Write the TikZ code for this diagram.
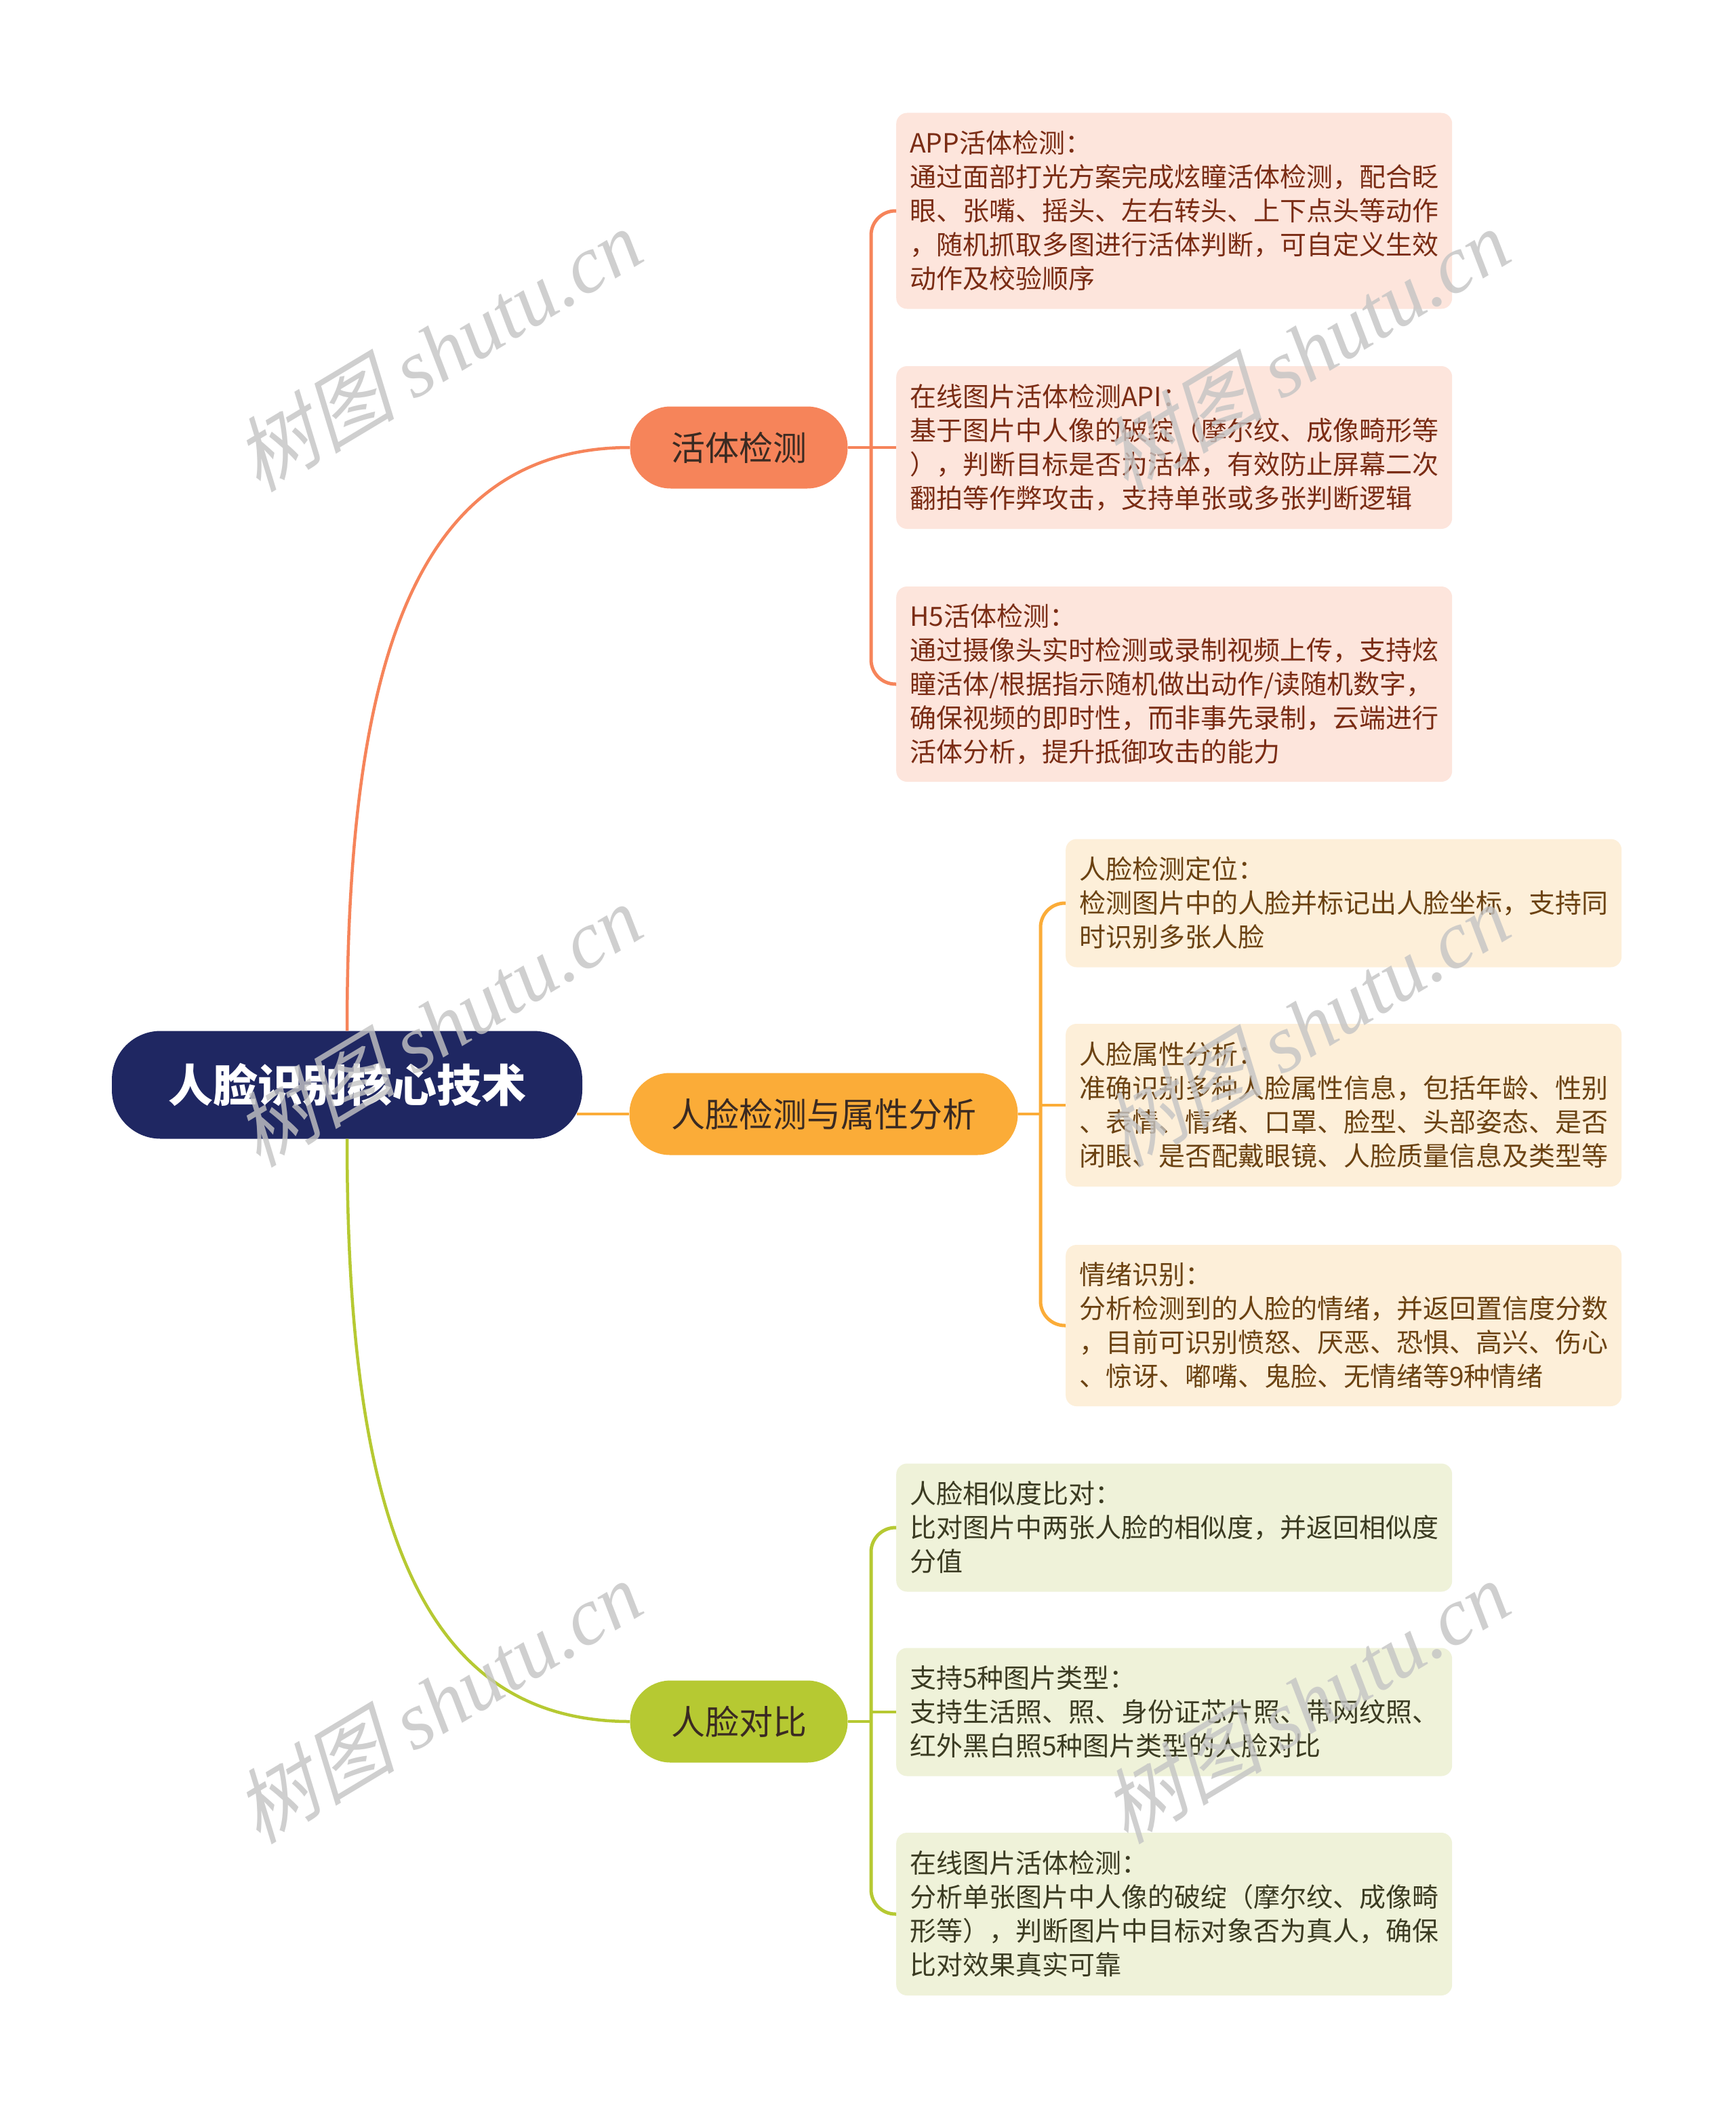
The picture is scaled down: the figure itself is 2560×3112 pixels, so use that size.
\documentclass[tikz,border=0pt]{standalone}
\usepackage{fontspec}
\setmainfont{Noto Sans CJK SC}
\newfontfamily\wmserif{Liberation Serif}
\newfontfamily\wmcjk[FakeSlant=0.25]{Noto Sans CJK SC}
\definecolor{rootc}{HTML}{1F2762}
\definecolor{bAc}{HTML}{F6845A}
\definecolor{bBc}{HTML}{FBAC38}
\definecolor{bCc}{HTML}{B6C932}
\definecolor{btext}{HTML}{3A2A22}
\definecolor{lAfill}{HTML}{FDE5DC}
\definecolor{lAtext}{HTML}{7A2C14}
\definecolor{lBfill}{HTML}{FDEFD9}
\definecolor{lBtext}{HTML}{6B4212}
\definecolor{lCfill}{HTML}{EFF2D9}
\definecolor{lCtext}{HTML}{3B3B22}
\definecolor{wmgray}{HTML}{C4C4C4}
\tikzset{
  rootbox/.style={fill=rootc, rounded corners=72pt, minimum width=694pt, minimum height=159pt,
    text=white, inner sep=0pt, font=\fontsize{66}{70}\selectfont\bfseries},
  branchbox/.style={rounded corners=60pt, minimum height=121pt, inner sep=0pt, text=btext,
    font=\fontsize{50}{56}\selectfont},
  leafbox/.style={rounded corners=16pt, text width=780pt, inner xsep=20pt, inner ysep=0pt,
    align=left, anchor=west, font=\fontsize{39}{50}\selectfont},
  conn/.style={line width=4.5pt},
  spine/.style={line width=5pt, rounded corners=36pt},
  wm/.style={text=wmgray, opacity=0.8, inner sep=0pt, rotate=31}
}
\begin{document}
\begin{tikzpicture}[x=1pt,y=-1pt]
\fill[white] (0,0) rectangle (2560,3112);
\useasboundingbox (0,0) rectangle (2560,3112);

% root and branches
\node[rootbox] (root) at (512,1600) {人脸识别核心技术};
\node[branchbox, fill=bAc, minimum width=321pt] (bA) at (1090,660) {活体检测};
\node[branchbox, fill=bBc, minimum width=573pt] (bB) at (1215,1643) {人脸检测与属性分析};
\node[branchbox, fill=bCc, minimum width=321pt] (bC) at (1090,2539) {人脸对比};

% leaves A
\node[leafbox, fill=lAfill, text=lAtext, minimum height=289pt] (lA1) at (1322,311) {APP活体检测：\\通过面部打光方案完成炫瞳活体检测，配合眨\\眼、张嘴、摇头、左右转头、上下点头等动作\\，随机抓取多图进行活体判断，可自定义生效\\动作及校验顺序};
\node[leafbox, fill=lAfill, text=lAtext, minimum height=240pt] (lA2) at (1322,660) {在线图片活体检测API：\\基于图片中人像的破绽（摩尔纹、成像畸形等\\），判断目标是否为活体，有效防止屏幕二次\\翻拍等作弊攻击，支持单张或多张判断逻辑};
\node[leafbox, fill=lAfill, text=lAtext, minimum height=288pt] (lA3) at (1322,1009) {H5活体检测：\\通过摄像头实时检测或录制视频上传，支持炫\\瞳活体/根据指示随机做出动作/读随机数字，\\确保视频的即时性，而非事先录制，云端进行\\活体分析，提升抵御攻击的能力};

% leaves B
\node[leafbox, fill=lBfill, text=lBtext, minimum height=189pt] (lB1) at (1572,1332) {人脸检测定位：\\检测图片中的人脸并标记出人脸坐标，支持同\\时识别多张人脸};
\node[leafbox, fill=lBfill, text=lBtext, minimum height=240pt] (lB2) at (1572,1630) {人脸属性分析：\\准确识别多种人脸属性信息，包括年龄、性别\\、表情、情绪、口罩、脸型、头部姿态、是否\\闭眼、是否配戴眼镜、人脸质量信息及类型等};
\node[leafbox, fill=lBfill, text=lBtext, minimum height=238pt] (lB3) at (1572,1955) {情绪识别：\\分析检测到的人脸的情绪，并返回置信度分数\\，目前可识别愤怒、厌恶、恐惧、高兴、伤心\\、惊讶、嘟嘴、鬼脸、无情绪等9种情绪};

% leaves C
\node[leafbox, fill=lCfill, text=lCtext, minimum height=189pt] (lC1) at (1322,2253) {人脸相似度比对：\\比对图片中两张人脸的相似度，并返回相似度\\分值};
\node[leafbox, fill=lCfill, text=lCtext, minimum height=189pt] (lC2) at (1322,2525) {支持5种图片类型：\\支持生活照、照、身份证芯片照、带网纹照、\\红外黑白照5种图片类型的人脸对比};
\node[leafbox, fill=lCfill, text=lCtext, minimum height=240pt] (lC3) at (1322,2823) {在线图片活体检测：\\分析单张图片中人像的破绽（摩尔纹、成像畸\\形等），判断图片中目标对象否为真人，确保\\比对效果真实可靠};

% spine coordinates
\coordinate (sA) at ([xshift=-37pt]lA1.west);
\coordinate (sB) at ([xshift=-37pt]lB1.west);
\coordinate (sC) at ([xshift=-37pt]lC1.west);

% root to branches
\draw[conn, bAc] (root.north) .. controls +(0,-540) and (610,660) .. (bA.west);
\draw[conn, bBc] ([xshift=-8pt]root.east |- bB.west) -- (bB.west);
\draw[conn, bCc] (root.south) .. controls +(0,540) and (610,2539) .. (bC.west);

% branch A spine
\draw[spine, bAc] (lA1.west) -- (sA) -- (sA |- lA3.west) -- (lA3.west);
\draw[conn, bAc] (bA.east) -- (lA2.west);
% branch B spine
\draw[spine, bBc] (lB1.west) -- (sB) -- (sB |- lB3.west) -- (lB3.west);
\draw[conn, bBc] (bB.east) -- (sB |- bB.east);
\draw[conn, bBc] (sB |- lB2.west) -- (lB2.west);
% branch C spine
\draw[spine, bCc] (lC1.west) -- (sC) -- (sC |- lC3.west) -- (lC3.west);
\draw[conn, bCc] (bC.east) -- (sC |- bC.east);
\draw[conn, bCc] (sC |- lC2.west) -- (lC2.west);

% watermarks
\foreach \wx/\wy [count=\i] in {645/516, 1925/516, 645/1512, 1925/1512, 645/2510, 1925/2510}{
  \node[wm] (wm\i) at (\wx,\wy) {\fontsize{120}{124}\selectfont\wmcjk 树图\ \wmserif\itshape shutu.cn};
}
\end{tikzpicture}
\end{document}
